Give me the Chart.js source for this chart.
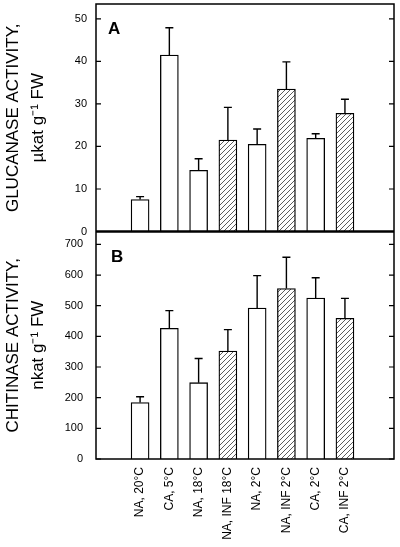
<!DOCTYPE html>
<html><head><meta charset="utf-8">
<script src="https://cdn.jsdelivr.net/npm/chart.js@4.4.0/dist/chart.umd.min.js"></script>
<style>html,body{margin:0;padding:0;background:#fff;}</style>
</head><body>
<canvas id="c" width="400" height="547" style="display:block;width:400px;height:547px"></canvas>
<script>
const categories = ["NA, 20°C","CA, 5°C","NA, 18°C","NA, INF 18°C","NA, 2°C","NA, INF 2°C","CA, 2°C","CA, INF 2°C"];
const infected = [false,false,false,true,false,true,false,true];
const glucanase = [7.5,41.5,14.4,21.5,20.5,33.5,21.9,27.8];
const glucanaseErr = [0.7,6.4,2.7,7.7,3.6,6.4,1.1,3.3];
const chitinase = [184,426,249,352,492,556,525,459];
const chitinaseErr = [19,58,79,70,106,102,66,65];
const glucanaseTicksStep = 10;
const chitinaseTicksStep = 100;

Chart.defaults.font.family = '"Liberation Sans", Arial, sans-serif';
Chart.defaults.color = '#000';

const canvas = document.getElementById('c');
const mainCtx = canvas.getContext('2d');
function makeHatch(){
  const s = 5;
  const c = document.createElement('canvas'); c.width = s; c.height = s;
  const g = c.getContext('2d');
  g.fillStyle = '#fff'; g.fillRect(0,0,s,s);
  g.strokeStyle = '#333'; g.lineWidth = 0.8;
  g.beginPath();
  g.moveTo(0,s); g.lineTo(s,0);
  g.moveTo(-1,1); g.lineTo(1,-1);
  g.moveTo(s-1,s+1); g.lineTo(s+1,s-1);
  g.stroke();
  return mainCtx.createPattern(c,'repeat');
}
const hatch = makeHatch();
const fills = infected.map(f => f ? hatch : '#ffffff');

const deco = {
  id: 'deco',
  afterDatasetsDraw(chart){
    const ctx = chart.ctx, a = chart.chartArea, xs = chart.scales.x;
    ctx.save();
    ctx.strokeStyle = '#000';
    chart.data.datasets.forEach(ds => {
      const ys = chart.scales[ds.yAxisID];
      ds.data.forEach((p, i) => {
        const px = xs.getPixelForValue(p.x);
        const top = ys.getPixelForValue(p.y);
        const et = ys.getPixelForValue(p.y + ds.err[i]);
        ctx.lineWidth = 1.4;
        ctx.beginPath();
        ctx.moveTo(px, top); ctx.lineTo(px, et);
        ctx.moveTo(px - 4, et); ctx.lineTo(px + 4, et);
        ctx.stroke();
      });
    });
    ctx.lineWidth = 1.5;
    ctx.strokeRect(a.left, a.top, a.right - a.left, a.bottom - a.top);
    const yA = chart.scales.yA, yB = chart.scales.yB;
    const mid = yA.bottom;
    ctx.lineWidth = 2.5;
    ctx.beginPath(); ctx.moveTo(a.left, mid); ctx.lineTo(a.right, mid); ctx.stroke();
    ctx.lineWidth = 1.2;
    [yA, yB].forEach(s => {
      s.ticks.forEach(t => {
        const py = s.getPixelForValue(t.value);
        ctx.beginPath();
        ctx.moveTo(a.left, py); ctx.lineTo(a.left + 5, py);
        ctx.moveTo(a.right - 5, py); ctx.lineTo(a.right, py);
        ctx.stroke();
      });
    });
    ctx.fillStyle = '#000';
    ctx.font = 'bold 17px "Liberation Sans", Arial, sans-serif';
    ctx.textBaseline = 'alphabetic';
    ctx.fillText('A', 108, 34);
    ctx.fillText('B', 111, 262);
    ctx.restore();
  }
};

function fitY(s){ s.width = 96; s.paddingTop = 0; s.paddingBottom = 0; }

new Chart(canvas, {
  type: 'bar',
  data: {
    datasets: [
      { data: glucanase.map((v,i)=>({x:i, y:v})), err: glucanaseErr, yAxisID: 'yA',
        backgroundColor: fills, borderColor: '#000', borderWidth: 1.3, barThickness: 18, grouped: false, borderSkipped: 'bottom' },
      { data: chitinase.map((v,i)=>({x:i, y:v})), err: chitinaseErr, yAxisID: 'yB',
        backgroundColor: fills, borderColor: '#000', borderWidth: 1.3, barThickness: 18, grouped: false, borderSkipped: 'bottom' }
    ]
  },
  options: {
    responsive: false, animation: false, devicePixelRatio: 1,
    layout: { padding: { top: 4, right: 6, left: 0, bottom: 0 } },
    plugins: { legend: { display: false }, tooltip: { enabled: false } },
    scales: {
      x: {
        type: 'linear', min: -0.87, max: 8.04,
        grid: { display: false, drawTicks: false }, border: { display: false },
        afterBuildTicks: s => { s.ticks = categories.map((_, i) => ({ value: i })); },
        afterFit: s => { s.height = 88; s.paddingLeft = 0; s.paddingRight = 0; },
        ticks: { autoSkip: false, minRotation: 90, maxRotation: 90, padding: 8,
          font: { size: 12 }, color: '#000', callback: v => categories[v] ?? '' }
      },
      yB: {
        type: 'linear', position: 'left', stack: 'v', stackWeight: 1,
        min: 0, max: 742,
        grid: { display: false, drawTicks: false }, border: { display: false },
        afterFit: fitY,
        ticks: { stepSize: chitinaseTicksStep, includeBounds: false, padding: 13, font: { size: 11 }, color: '#000' },
        title: { display: true, text: ['CHITINASE ACTIVITY,', 'nkat g⁻¹ FW'], font: { size: 17, lineHeight: 1.45 }, padding: { top: 1, bottom: 0 }, color: '#000' }
      },
      yA: {
        type: 'linear', position: 'left', stack: 'v', stackWeight: 1,
        min: 0, max: 53.5,
        grid: { display: false, drawTicks: false }, border: { display: false },
        afterFit: fitY,
        ticks: { stepSize: glucanaseTicksStep, includeBounds: false, padding: 9, font: { size: 11 }, color: '#000' },
        title: { display: true, text: ['GLUCANASE ACTIVITY,', 'µkat g⁻¹ FW'], font: { size: 17, lineHeight: 1.45 }, padding: { top: 1, bottom: 0 }, color: '#000' }
      }
    }
  },
  plugins: [deco]
});
</script>
</body></html>
